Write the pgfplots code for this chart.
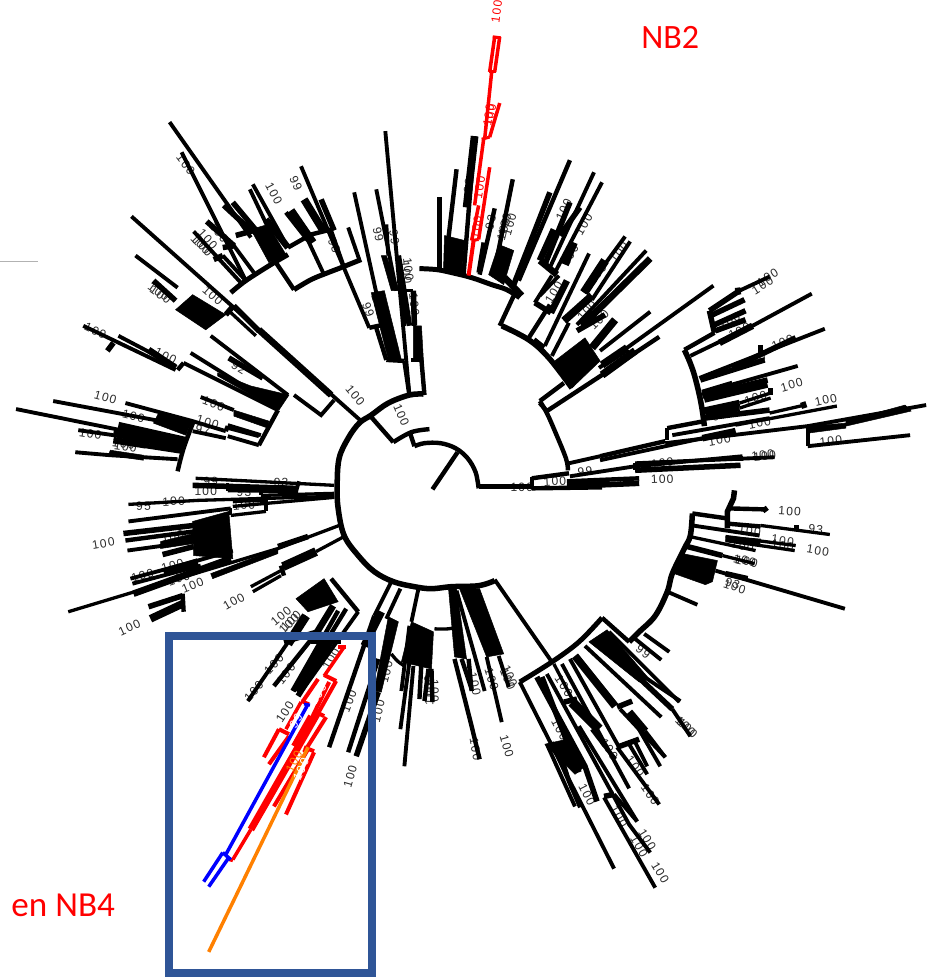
\documentclass[border=0pt]{standalone}
\usepackage{fontspec}
\setmainfont{Liberation Sans}
\newfontfamily\lf[LetterSpace=10]{Liberation Sans}
\newfontfamily\cf{Carlito}
\usepackage{pgfplots}
\pgfplotsset{compat=1.18}
\definecolor{framec}{HTML}{2F5597}
\definecolor{labc}{HTML}{2A2A2A}
\definecolor{orng}{HTML}{FF8000}
\newcommand\seg[2]{\addplot[black,line width={#1*1.1pt},no markers,forget plot] coordinates {#2};}
\newcommand\arcl[2]{\addplot[black,line width={#1*1.1pt},no markers,forget plot,smooth,tension=0.6] coordinates {#2};}
\newcommand\red[2]{\addplot[red,line width=#1pt,no markers,forget plot] coordinates {#2};}
\newcommand\blu[2]{\addplot[blue,line width=#1pt,no markers,forget plot] coordinates {#2};}
\newcommand\blk[1]{\addplot[fill=black,draw=black,line width=0.5pt,no markers,forget plot] coordinates {#1} -- cycle;}
\newcommand\lab[3]{\node[text=labc,font=\lf\fontsize{12}{12}\selectfont,inner sep=0pt,rotate={atan((490-#2)/(#1-431))}] at (axis cs:#1,#2) {#3};}
\newcommand\labc[4]{\node[text=#4,font=\lf\fontsize{12}{12}\selectfont,inner sep=0pt,rotate={atan((490-#2)/(#1-431))}] at (axis cs:#1,#2) {#3};}
\begin{document}
\begin{tikzpicture}
\begin{axis}[x=1pt,y=1pt,xmin=0,xmax=924,ymin=0,ymax=977,y dir=reverse,hide axis,scale only axis,clip=true,line join=miter,line cap=butt]
% labels
\lab{185}{167}{100}\lab{273}{196}{100}\lab{295}{186}{99}\lab{218}{235}{100}\lab{207}{242}{100}\lab{200}{247}{100}\lab{202}{249}{100}
\lab{212}{298}{100}\lab{160}{297}{100}\lab{158}{294}{100}\lab{165}{358}{100}\lab{238}{370}{92}\lab{367}{312}{99}\lab{377}{307}{100}
\lab{413}{307}{100}\lab{403}{308}{100}\lab{405}{275}{100}\lab{407}{272}{100}\lab{377}{237}{99}\lab{393}{240}{99}\lab{333}{248}{93}\lab{354}{397}{100}\lab{400}{417}{100}
\lab{105}{399}{100}\lab{133}{418}{100}\lab{90}{436}{100}\lab{123}{446}{100}\lab{125}{449}{100}\lab{213}{406}{100}\lab{207}{424}{100}\lab{202}{432}{97}\lab{95}{333}{100}
\lab{210}{483}{99}\lab{205}{493}{100}\lab{243}{494}{93}\lab{280}{484}{93}\lab{143}{508}{95}\lab{173}{503}{100}\lab{103}{545}{100}\lab{172}{538}{100}\lab{172}{567}{100}\lab{142}{577}{100}\lab{178}{580}{100}\lab{192}{587}{100}\lab{233}{603}{100}\lab{129}{629}{100}\lab{243}{507}{100}
\lab{280}{617}{100}\lab{290}{622}{100}\lab{288}{625}{100}\lab{273}{665}{100}\lab{253}{692}{100}\lab{285}{675}{100}\lab{284}{713}{100}\lab{330}{660}{100}\lab{349}{777}{100}\lab{348}{702}{100}\lab{377}{712}{100}\lab{385}{673}{100}\lab{427}{688}{100}\lab{433}{692}{100}
\lab{505}{747}{100}\lab{474}{750}{100}\lab{473}{685}{100}\lab{490}{680}{100}\lab{508}{677}{100}\lab{506}{680}{100}\lab{428}{695}{100}\lab{562}{687}{100}\lab{558}{730}{100}\lab{607}{750}{100}\lab{633}{767}{100}\lab{648}{795}{100}\lab{585}{795}{100}\lab{617}{817}{100}\lab{645}{840}{100}\lab{637}{847}{100}\lab{658}{873}{100}\lab{683}{727}{100}\lab{685}{729}{100}\lab{641}{653}{99}
\lab{730}{585}{93}\lab{732}{588}{100}\lab{742}{562}{100}\lab{744}{563}{100}\lab{747}{532}{100}\lab{787}{513}{100}\lab{813}{531}{93}\lab{780}{542}{100}\lab{780}{547}{100}\lab{815}{552}{100}\lab{740}{547}{100}
\lab{660}{481}{100}\lab{626}{484}{100}\lab{583}{473}{99}\lab{553}{483}{100}\lab{520}{489}{100}\lab{828}{443}{100}\lab{823}{402}{100}\lab{789}{387}{100}\lab{760}{457}{100}\lab{762}{458}{100}\lab{660}{465}{100}\lab{760}{288}{100}\lab{765}{280}{100}\lab{780}{345}{100}\lab{752}{362}{100}\lab{753}{400}{100}\lab{757}{425}{100}\lab{717}{418}{99}\lab{717}{442}{100}\lab{727}{323}{100}\lab{737}{333}{100}\lab{617}{255}{100}\lab{595}{277}{100}\lab{585}{313}{100}\lab{597}{322}{100}\lab{562}{212}{100}\lab{582}{227}{100}\lab{568}{258}{100}\lab{552}{295}{100}\lab{508}{227}{100}\lab{502}{232}{100}\lab{467}{188}{99}\lab{489}{225}{93}\lab{503}{227}{100}
\labc{495}{15}{100}{red}\labc{487}{118}{100}{red}\labc{489}{118}{100}{red}\labc{478}{190}{100}{red}\labc{475}{230}{100}{red}
% central
\seg{4}{(431,491)(456,454)}
\arcl{4}{(477,490)(474,474)(466,460)(454,450)(439,445)(423,445)(413,448)}
\seg{4}{(413,448)(409,436)}
\arcl{4}{(428,431)(410,434)(392,444)}
\seg{4}{(392,444)(370,419)}
\arcl{5}{(422,396)(408,397)(387,405)(370,417)(358,425)(347,440)(338,460)(336,487)(337,510)(343,537)(357,557)(373,573)(392,583)(413,588)(430,590)(450,588)(477,587)(493,582)}
\seg{4}{(477,488)(497,488)(530,488)}
\seg{4}{(530,479)(530,491)}
\seg{4}{(530,480)(567,475)}
\seg{4}{(530,490)(600,489)}
\seg{7}{(565,487)(600,487)}
\seg{4}{(565,483)(637,480)}
\seg{5}{(565,488)(637,485)}
\arcl{4}{(566,472)(564,460)(553,433)(545,415)(538,403)}
\seg{4}{(538,403)(562,385)}
\seg{4}{(538,405)(545,413)}
\seg{4}{(545,413)(600,377)(657,339)}
\seg{7}{(600,377)(633,353)}
\seg{3.5}{(597,370)(711,288)}
\seg{7}{(600,367)(625,350)}
% top-centre cluster
\seg{4}{(408,397)(403,363)}
\seg{4}{(423,397)(420,362)}
\seg{4}{(385,362)(403,363)}
\seg{4}{(410,362)(422,362)}
\seg{4}{(385,362)(375,330)}
\seg{4}{(368,330)(382,327)}
\seg{3.5}{(368,330)(300,169)}
\seg{3.5}{(382,327)(353,195)}
\seg{3.5}{(384,134)(408,397)}
\seg{3.5}{(375,192)(395,293)}
\blk{(380,258)(385,258)(398,293)(390,293)}
\seg{3.5}{(385,227)(387,258)}
\seg{5}{(397,258)(408,328)}
\blk{(370,295)(383,293)(400,362)(387,362)}
\seg{5}{(412,293)(413,328)}
\blk{(412,328)(420,328)(422,363)(412,362)}
\seg{4}{(402,293)(402,328)}
\seg{3}{(402,293)(412,293)}
% upper left
\seg{3.5}{(169,125)(250,240)}
\seg{3.5}{(181,155)(245,283)}
\seg{5}{(223,208)(250,233)}
\seg{5}{(232,205)(257,235)}
\seg{5}{(235,238)(257,232)}
\blk{(250,232)(267,227)(285,257)(268,265)}
\seg{3.5}{(252,187)(287,250)}
\seg{3.5}{(249,192)(278,253)}
\seg{6}{(265,222)(287,250)}
\seg{5}{(206,224)(233,248)}
\seg{3.5}{(233,248)(253,275)}
\seg{3.5}{(193,234)(240,285)}
\seg{5}{(222,250)(235,248)}
\seg{5}{(213,262)(222,258)}
\seg{3.5}{(222,258)(245,283)}
\arcl{4.5}{(230,295)(245,283)(270,267)(287,257)}
\seg{4}{(275,265)(293,292)}
\arcl{4.5}{(293,292)(310,282)(327,275)(340,270)(360,262)}
\seg{3.5}{(307,243)(322,275)}
\seg{4}{(285,215)(307,243)}
\seg{7}{(290,213)(312,245)}
\seg{7}{(303,202)(322,233)}
\seg{5}{(320,202)(333,233)}
\seg{4}{(287,250)(310,237)(330,232)}
\seg{3.5}{(330,233)(342,267)}
\seg{3.5}{(347,230)(358,262)}
% left arm
\seg{3.5}{(131,219)(360,423)}
\seg{3.5}{(135,258)(177,290)}
\seg{5}{(153,283)(175,303)}
\blk{(175,312)(192,297)(225,317)(205,332)}
\seg{5}{(225,317)(231,310)}
\seg{5}{(233,308)(258,333)}
\seg{3}{(228,313)(255,338)}
\seg{6}{(258,332)(330,397)}
\seg{3.5}{(210,338)(287,397)}
\seg{5}{(228,360)(262,380)}
\seg{3.5}{(190,355)(278,410)}
\blk{(217,375)(250,388)(288,397)(278,412)(247,395)(217,378)}
\seg{3.5}{(293,397)(320,417)(333,402)}
\seg{4}{(277,412)(258,447)}
\seg{3.5}{(183,365)(277,412)}
\seg{3.5}{(83,328)(175,372)}
\seg{5}{(107,353)(113,345)}
\seg{3.5}{(118,338)(175,368)}
\seg{6}{(148,352)(175,370)}
\seg{4}{(177,372)(183,365)}
\seg{3.5}{(200,399)(233,412)}
\blk{(233,412)(268,423)(267,430)(233,418)}
\seg{3.5}{(227,427)(260,437)}
\seg{3.5}{(228,430)(258,438)}
\seg{3.5}{(192,423)(225,433)}
\seg{3.5}{(192,433)(225,440)}
\seg{3.5}{(227,438)(258,447)}
\seg{4}{(225,433)(227,428)}
\arcl{4}{(177,473)(183,450)(193,423)}
\seg{3.5}{(125,405)(192,423)}
\blk{(158,415)(192,422)(185,437)(153,425)}
\seg{3.5}{(53,403)(160,423)}
\seg{3.5}{(16,411)(185,445)}
\seg{6}{(118,427)(185,442)}
\seg{7}{(113,435)(183,448)}
\seg{3.5}{(78,432)(113,437)}
\seg{3.5}{(75,454)(110,457)(177,461)}
\blk{(110,452)(143,457)(143,462)(108,457)}
\seg{5}{(143,447)(182,453)}
\seg{6}{(113,442)(145,447)}
% middle left
\seg{3}{(195,480)(333,487)}
\seg{5}{(192,487)(295,490)}
\seg{3}{(227,485)(227,493)}
\seg{3.5}{(227,492)(297,493)}
\seg{3.5}{(298,483)(295,493)}
\seg{3.5}{(260,492)(260,497)}
\seg{3}{(260,497)(333,495)}
\seg{3}{(128,506)(197,502)(333,498)}
\seg{3}{(232,503)(265,502)}
\seg{3}{(232,508)(265,505)}
\seg{3}{(265,502)(265,513)}
\seg{3}{(230,517)(265,513)}
\seg{3}{(265,505)(333,499)}
\seg{3}{(230,510)(230,517)}
\blk{(192,523)(228,513)(232,560)(193,557)}
\seg{3.5}{(128,523)(230,510)}
\seg{5}{(123,535)(193,527)}
\seg{4}{(125,542)(193,533)}
\blk{(160,543)(193,535)(193,545)(160,550)}
\seg{3.5}{(127,552)(193,543)}
\seg{5}{(162,556)(193,548)}
\seg{3.5}{(130,580)(197,562)(232,552)}
\seg{3.5}{(132,585)(200,567)}
\seg{6}{(163,573)(197,563)}
\seg{3}{(68,613)(277,550)(338,527)}
\seg{6}{(133,595)(230,560)}
\blk{(210,575)(277,550)(277,555)(212,580)}
\seg{5}{(277,548)(307,538)}
\seg{5}{(148,608)(182,597)}
\seg{7}{(150,620)(182,605)}
\seg{4}{(182,595)(183,613)}
\seg{3}{(250,588)(280,572)}
\seg{3}{(252,593)(280,577)}
\seg{4}{(280,567)(283,577)}
\seg{8}{(282,568)(315,553)}
\seg{3}{(315,553)(343,538)}
% wedge bottom left
\blk{(295,600)(323,580)(337,603)(307,613)}
\seg{4}{(330,580)(357,613)}
\seg{3.5}{(357,613)(300,693)}
\seg{4}{(345,610)(295,692)}
\seg{4}{(337,612)(292,692)}
\seg{6}{(332,607)(310,643)}
\seg{4}{(310,643)(340,643)}
\seg{3.5}{(305,617)(247,702)}
\seg{8}{(305,617)(287,645)}
\seg{4}{(317,632)(273,687)}
\seg{5}{(283,643)(320,632)}
\seg{5}{(320,643)(292,692)}
\seg{5}{(330,643)(297,697)}
\seg{3.5}{(390,583)(373,617)}
\seg{3.5}{(399,590)(385,620)}
\seg{3.5}{(417,590)(410,623)}
\seg{4}{(373,617)(328,748)}
\blk{(387,618)(397,623)(380,693)(373,692)}
\seg{4}{(377,660)(347,753)}
\seg{5}{(377,693)(355,757)}
\seg{7}{(380,613)(363,647)}
\blk{(410,623)(432,633)(430,670)(400,663)}
\seg{3.5}{(408,663)(399,730)}
\seg{3.5}{(412,667)(403,767)}
\seg{3.5}{(400,692)(408,627)}
\seg{4}{(420,663)(418,700)}
\seg{4}{(427,670)(423,702)}
\seg{4}{(430,670)(431,703)}
\arcl{3}{(390,655)(396,662)(403,667)}
\arcl{3}{(433,630)(447,630)(460,627)}
% lower
\blk{(447,590)(455,590)(465,660)(453,658)}
\seg{4}{(453,660)(470,727)(478,760)}
\seg{4}{(460,660)(470,690)}
\seg{4}{(467,660)(470,692)}
\seg{3.5}{(455,592)(483,692)}
\blk{(458,590)(478,590)(502,655)(485,658)}
\seg{3.5}{(485,658)(500,723)}
\seg{3.5}{(497,657)(507,688)}
\seg{3.5}{(493,581)(550,663)}
\arcl{4.5}{(600,619)(577,643)(550,663)(518,683)}
\seg{3.5}{(518,683)(612,869)}
\seg{4}{(600,619)(627,643)}
\arcl{5}{(627,643)(637,633)(653,617)(665,593)(670,575)(682,550)(688,537)(690,515)}
\seg{4}{(690,515)(725,520)}
\seg{5}{(732,492)(731,500)(725,513)(725,530)}
\seg{4}{(727,510)(763,511)}
\seg{5}{(761,509)(764,513)}
\seg{3.5}{(690,527)(757,537)}
\seg{4}{(723,525)(758,528)}
\seg{3}{(758,527)(827,536)}
\seg{5}{(794,527)(794,532)}
\seg{5}{(723,540)(758,543)}
\seg{3}{(723,542)(792,552)}
\seg{3}{(723,538)(793,547)}
\seg{3}{(687,538)(753,552)}
\seg{5}{(685,548)(720,557)}
\seg{3}{(720,557)(752,565)}
\blk{(680,555)(715,562)(710,583)(703,586)(672,575)}
\seg{3.5}{(713,572)(842,610)}
\seg{5}{(723,575)(745,580)}
\seg{3.5}{(665,593)(695,606)}
\seg{3.5}{(642,635)(667,653)}
\seg{3.5}{(633,640)(659,661)}
% fan
\blk{(587,643)(605,631)(647,680)(637,683)}
\seg{3.5}{(590,643)(678,702)}
\seg{3.5}{(607,633)(677,703)}
\seg{3.5}{(583,647)(659,718)}
\seg{5}{(620,663)(670,710)}
\seg{3.5}{(670,710)(688,737)}
\seg{7}{(573,657)(613,707)}
\seg{5}{(615,708)(630,702)}
\seg{3.5}{(618,710)(663,758)}
\seg{7}{(627,713)(643,732)}
\seg{3.5}{(635,727)(658,767)}
\seg{3.5}{(643,732)(663,758)}
\seg{3.5}{(568,660)(617,748)}
\seg{5}{(615,748)(637,740)}
\seg{3.5}{(615,748)(657,805)}
\seg{3.5}{(627,745)(645,775)}
\seg{3.5}{(633,743)(645,767)}
\seg{3.5}{(560,665)(627,789)}
\seg{5}{(562,703)(575,700)}
\seg{9}{(570,703)(597,730)}
\seg{4}{(590,730)(613,760)}
\seg{3.5}{(577,727)(635,822)}
\seg{3}{(552,665)(577,713)}
\seg{3.5}{(545,675)(627,825)(648,853)}
\seg{5}{(602,797)(612,795)}
\seg{3.5}{(602,798)(653,888)}
\seg{3.5}{(612,795)(635,822)}
\seg{5}{(535,678)(583,767)(595,802)}
\blk{(543,745)(565,740)(583,767)(573,775)}
\seg{3.5}{(545,745)(573,807)}
\seg{3.5}{(550,743)(578,808)}
\seg{3.5}{(555,743)(570,790)}
\seg{5}{(540,678)(577,773)}
% top cluster
\arcl{4.5}{(418,271)(435,272)(450,275)(470,280)(490,287)(505,292)(518,300)}
\seg{4}{(512,298)(498,328)}
\arcl{5}{(500,328)(527,342)(547,360)(570,390)}
\seg{4.5}{(438,200)(438,270)}
\seg{4}{(455,172)(447,240)}
\seg{4}{(473,139)(462,277)}
\seg{7}{(473,139)(465,210)}
\blk{(443,238)(463,243)(460,277)(442,272)}
\seg{4}{(511,182)(492,277)}
\seg{4}{(493,211)(478,277)}
\seg{4}{(482,245)(477,275)}
\blk{(487,277)(497,247)(512,253)(502,287)}
\seg{5}{(548,195)(512,287)}
\seg{4}{(568,163)(517,283)}
\seg{6}{(503,280)(520,298)}
% upper right
\seg{4}{(527,340)(548,307)}
\seg{5}{(533,305)(549,315)}
\seg{3.5}{(533,305)(550,278)}
\seg{6}{(549,315)(565,283)}
\seg{3.5}{(538,298)(557,278)}
\seg{6}{(538,263)(555,277)}
\seg{6}{(538,263)(552,232)}
\seg{3.5}{(553,275)(600,185)}
\seg{3.5}{(548,270)(592,175)}
\seg{5}{(543,267)(568,205)}
\seg{5}{(558,238)(578,210)}
\seg{7}{(563,267)(572,245)}
\seg{3.5}{(543,348)(587,256)}
\seg{5}{(532,342)(542,350)}
\seg{7}{(562,323)(590,298)}
\seg{3.5}{(550,358)(567,325)}
\seg{3.5}{(582,295)(623,239)}
\seg{3.5}{(590,302)(628,244)}
\seg{8}{(582,295)(603,263)}
\seg{5}{(575,333)(603,317)}
\seg{3.5}{(575,327)(644,253)}
\seg{6}{(580,328)(648,261)}
\blk{(553,363)(583,340)(598,363)(570,390)}
\seg{7}{(590,350)(613,322)}
\seg{3.5}{(598,353)(648,314)}
% right comb
\arcl{5}{(682,352)(687,363)(692,377)(697,397)(700,413)(702,428)}
\seg{4}{(682,352)(712,335)}
\seg{5}{(712,335)(707,313)}
\seg{5}{(707,313)(737,293)}
\seg{3.5}{(737,293)(767,279)}
\seg{5}{(735,290)(736,297)}
\seg{5}{(708,318)(742,302)}
\seg{5}{(712,327)(743,313)}
\seg{5}{(713,333)(743,322)}
\seg{3.5}{(688,358)(750,328)(809,296)}
\seg{6}{(717,345)(750,328)}
\seg{3.5}{(697,380)(822,331)}
\seg{5}{(730,370)(793,340)}
\seg{5}{(758,347)(758,355)}
\seg{5}{(698,382)(762,362)}
\seg{6}{(700,395)(730,386)}
\seg{3.5}{(700,395)(795,368)}
\seg{5}{(700,398)(765,382)}
\seg{5}{(702,402)(765,387)}
\seg{6}{(700,413)(737,405)}
\seg{3}{(737,405)(768,395)}
\seg{3}{(737,410)(768,400)}
\seg{5}{(768,390)(768,397)}
\seg{6}{(703,415)(737,410)}
\seg{5}{(702,420)(767,412)}
\seg{4}{(665,430)(702,423)}
\seg{4}{(665,430)(665,442)}
\seg{3.5}{(670,437)(767,420)}
\seg{3}{(767,415)(802,407)}
\seg{5}{(800,404)(802,410)}
\seg{3}{(733,427)(834,408)}
\seg{4}{(598,458)(663,443)}
\seg{3.5}{(567,465)(598,458)}
\seg{3.5}{(598,462)(733,433)}
\seg{6}{(700,440)(733,433)}
\seg{3.5}{(663,445)(805,428)(923,407)}
\blk{(805,428)(843,425)(843,430)(805,435)}
\blk{(843,423)(902,407)(908,413)(843,428)}
\seg{4}{(805,430)(805,448)}
\seg{3.5}{(805,448)(907,437)}
\seg{3.5}{(568,478)(633,468)(740,458)}
\seg{3.5}{(633,465)(772,459)}
\seg{5}{(633,472)(738,467)}
\seg{5}{(738,458)(738,463)}
\seg{3.5}{(633,465)(633,472)}
% red top
\red{4}{(467,278)(472,243)}
\red{3}{(470,243)(477,242)}
\red{3.5}{(470,243)(477,208)}
\red{3.5}{(477,242)(488,170)}
\red{3.5}{(473,208)(482,142)}
\red{3}{(480,142)(488,140)}
\red{3.5}{(483,142)(490,75)}
\red{3.5}{(488,140)(498,106)}
\red{3.5}{(488,75)(493,40)}
\red{3.5}{(493,75)(498,40)}
\red{3}{(487,75)(494,75)}
\red{3}{(491,40)(499,41)}
% red lower
\red{3.5}{(343,648)(323,677)}
\red{3.5}{(337,648)(345,648)}
\red{4}{(323,676)(335,682)}
\red{4}{(317,680)(302,702)}
\red{4}{(335,682)(307,732)}
\red{4}{(328,683)(302,737)}
\red{3.5}{(300,703)(285,730)}
\red{3.5}{(300,702)(308,705)}
\red{4}{(278,730)(288,735)}
\red{4}{(278,730)(263,758)}
\red{4}{(288,737)(268,765)}
\red{4}{(313,712)(323,717)}
\red{7}{(317,713)(250,830)}
\red{3.5}{(250,830)(232,860)}
\red{4}{(325,718)(303,753)}
\red{6}{(310,717)(293,747)}
\red{4}{(303,748)(313,752)}
\red{4}{(313,753)(285,815)}
\red{4}{(307,750)(273,807)}
\red{3}{(228,860)(232,861)}
\blu{3.5}{(307,705)(225,855)}
\blu{3}{(303,705)(309,706)}
\blu{3.5}{(222,853)(230,860)}
\blu{3.5}{(222,853)(203,882)}
\blu{3.5}{(228,858)(208,887)}
\addplot[orng,line width=3.5pt,no markers,forget plot] coordinates {(307,748)(208,952)};
\labc{317}{695}{100}{white}\labc{295}{722}{99}{white}\labc{293}{762}{100}{orng}\labc{300}{770}{100}{white}
% grey rule and frame
\addplot[black!30,line width=0.8pt,no markers,forget plot] coordinates {(0,264)(38,264)};
\addplot[framec,line width=8pt,no markers,forget plot] coordinates {(168,637)(371,637)(371,973)(168,973)} -- cycle;
\node[text=red,font=\cf\fontsize{34}{34}\selectfont,inner sep=0pt] at (axis cs:668,41) {NB2};
\node[text=red,font=\cf\fontsize{35}{35}\selectfont,inner sep=0pt] at (axis cs:63,906) {en NB4};
\end{axis}
\end{tikzpicture}
\end{document}
